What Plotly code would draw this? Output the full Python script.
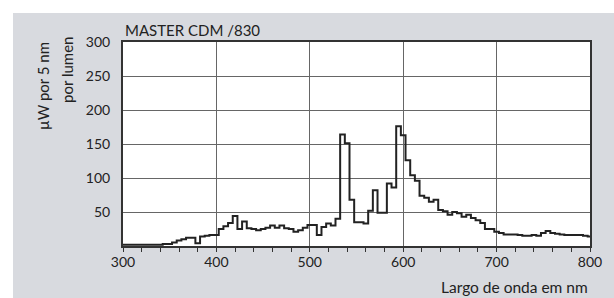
import plotly.graph_objects as go

wavelengths = list(range(300, 805, 5))
values = [2, 2, 2, 2, 2, 2, 2, 2, 2, 3,
          3, 5, 8, 10, 12, 12, 4, 14, 15, 16,
          16, 25, 29, 34, 44, 25, 36, 26, 25, 23,
          25, 27, 30, 27, 30, 26, 25, 21, 23, 27,
          31, 31, 16, 28, 33, 30, 40, 164, 151, 68,
          35, 35, 33, 52, 82, 49, 49, 92, 86, 176,
          163, 126, 104, 96, 74, 71, 65, 68, 53, 51,
          46, 50, 48, 43, 46, 41, 38, 34, 25, 25,
          21, 19, 17, 17, 17, 16, 15, 15, 16, 15,
          19, 22, 19, 18, 17, 16, 16, 16, 16, 15,
          14]
x_ticks = [300, 400, 500, 600, 700, 800]
y_ticks = [50, 100, 150, 200, 250, 300]

title = "MASTER CDM /830"
y_title_1 = "µW por 5 nm"
y_title_2 = "por lumen"
x_title = "Largo de onda em nm"

FONT = "Lato"
TXT = "#222222"
GRAY = "#d8dadf"
GRID = "#666666"
AX = "#333333"

OFF = 13  # white outer border (left/top) of the page

fig = go.Figure()
fig.add_trace(go.Scatter(x=wavelengths, y=values, mode="lines",
                         line=dict(color="#222222", width=2, shape="hvh"),
                         hoverinfo="skip", showlegend=False))

fig.update_layout(
    width=614 - OFF, height=298 - OFF,
    margin=dict(l=123 - OFF, r=24, t=42 - OFF, b=52),
    paper_bgcolor=GRAY, plot_bgcolor="white",
    font=dict(family=FONT, size=14, color=TXT),
    showlegend=False,
    xaxis=dict(range=[300, 800], tickvals=x_ticks, showgrid=True, gridcolor=GRID, gridwidth=1,
               showline=True, linecolor=AX, linewidth=2, mirror=True,
               ticks="outside", ticklen=4, tickcolor=AX, tickwidth=1,
               minor=dict(dtick=20, tick0=300, ticks="outside", ticklen=4, tickcolor=AX, tickwidth=1, showgrid=False),
               zeroline=False, ticklabelstandoff=-2,
               tickfont=dict(family=FONT, size=14, color=TXT)),
    yaxis=dict(range=[0, 300], tickvals=y_ticks, showgrid=True, gridcolor=GRID, gridwidth=1,
               showline=True, linecolor=AX, linewidth=2, mirror=True,
               ticks="", zeroline=False, ticklabelstandoff=8,
               tickfont=dict(family=FONT, size=14, color=TXT)),
)

fig.add_annotation(text=title, xref="paper", yref="paper", x=0, y=1, xanchor="left", yanchor="bottom",
                   yshift=1, showarrow=False, font=dict(family=FONT, size=15, color=TXT))
fig.add_annotation(text=y_title_1, xref="paper", yref="paper", x=(43 - 123) / 467, y=(246 - 40) / 204,
                   xanchor="center", yanchor="top", textangle=-90, showarrow=False,
                   font=dict(family=FONT, size=15, color=TXT))
fig.add_annotation(text=y_title_2, xref="paper", yref="paper", x=(67 - 123) / 467, y=(246 - 35) / 204,
                   xanchor="center", yanchor="top", textangle=-90, showarrow=False,
                   font=dict(family=FONT, size=15, color=TXT))
fig.add_annotation(text=x_title, xref="paper", yref="paper", x=1, y=(246 - 287) / 204,
                   xanchor="right", yanchor="middle", showarrow=False,
                   font=dict(family=FONT, size=15.5, color=TXT))

post = ("document.body.style.margin='0';"
        "document.body.style.background='white';"
        "var gd=document.getElementsByClassName('plotly-graph-div')[0];"
        "gd.style.position='absolute';gd.style.left='%dpx';gd.style.top='%dpx';" % (OFF, OFF))
fig.write_html("out.html", post_script=post)
